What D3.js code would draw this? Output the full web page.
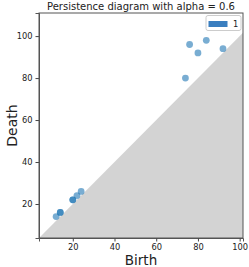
<!DOCTYPE html>
<html lang="en">
<head>
    <meta charset="UTF-8">
    <script src="https://cdn.jsdelivr.net/npm/d3@7"></script>
    <title>Persistence diagram</title>
    <style>
        body { margin: 0; background: white; }
        text { font-family: "DejaVu Sans", sans-serif; fill: #222; }
        .tick line { stroke: #444; }
        .domain { stroke: #555; }
    </style>
</head>
<body>
    <div id="chart"></div>
    <script>
        // points (birth, death); duplicates show as darker dots
        const births = [12, 14, 14, 20, 20, 22, 24, 74, 76, 80, 84, 92];
        const deaths = [14, 16, 16, 22, 22, 24, 26, 80, 96, 92, 98, 94];
        const tickValues = [20, 40, 60, 80, 100];
        const legendLabels = ["1"];

        const width = 249, height = 267;
        const margin = { top: 13, right: 6, bottom: 29, left: 39 };

        const svg = d3.select("#chart").append("svg")
            .attr("width", width)
            .attr("height", height);

        const x = d3.scaleLinear().domain([3.8, 101.6]).range([margin.left, width - margin.right]);
        const y = d3.scaleLinear().domain([3.8, 111]).range([height - margin.bottom, margin.top]);

        // shaded region under the diagonal
        const lo = 3.8, hi = 101.6;
        svg.append("path")
            .attr("d", `M${x(lo)},${y(lo)} L${x(hi)},${y(hi)} L${x(hi)},${y(lo)} Z`)
            .attr("fill", "#d3d3d3");

        svg.selectAll("circle.pt")
            .data(births.map((b, i) => [b, deaths[i]]))
            .enter()
            .append("circle")
            .attr("class", "pt")
            .attr("cx", d => x(d[0]))
            .attr("cy", d => y(d[1]))
            .attr("r", 3.4)
            .attr("fill", "#1f77b4")
            .attr("fill-opacity", 0.6);

        svg.append("g")
            .attr("transform", `translate(0,${height - margin.bottom})`)
            .call(d3.axisBottom(x).tickValues(tickValues).tickSize(3.5).tickPadding(3))
            .call(g => g.selectAll("text").style("font-size", "8.3px"));

        svg.append("g")
            .attr("transform", `translate(${margin.left},0)`)
            .call(d3.axisLeft(y).tickValues(tickValues).tickSize(3.5).tickPadding(3))
            .call(g => g.selectAll("text").style("font-size", "8.3px"));

        // frame
        svg.append("rect")
            .attr("x", margin.left)
            .attr("y", margin.top)
            .attr("width", width - margin.left - margin.right)
            .attr("height", height - margin.top - margin.bottom)
            .attr("fill", "none")
            .attr("stroke", "#555");

        svg.append("text")
            .attr("x", (margin.left + width - margin.right) / 2)
            .attr("y", 10)
            .attr("text-anchor", "middle")
            .style("font-size", "10px")
            .text("Persistence diagram with alpha = 0.6");

        svg.append("text")
            .attr("x", (margin.left + width - margin.right) / 2)
            .attr("y", 264.5)
            .attr("text-anchor", "middle")
            .style("font-size", "13.5px")
            .text("Birth");

        svg.append("text")
            .attr("transform", `translate(16.5,${(margin.top + height - margin.bottom) / 2}) rotate(-90)`)
            .attr("text-anchor", "middle")
            .style("font-size", "14px")
            .text("Death");

        // legend
        const legend = svg.append("g");
        legend.append("rect")
            .attr("x", 206).attr("y", 15.5)
            .attr("width", 35).attr("height", 15)
            .attr("rx", 2)
            .attr("fill", "white").attr("fill-opacity", 0.8)
            .attr("stroke", "#ccc");
        legendLabels.forEach((lab, i) => {
            legend.append("rect")
                .attr("x", 208.5).attr("y", 21 + i * 12)
                .attr("width", 19).attr("height", 6)
                .attr("fill", "#3a7ebf");
            legend.append("text")
                .attr("x", 233).attr("y", 27 + i * 12)
                .style("font-size", "8.3px")
                .text(lab);
        });
    </script>
</body>
</html>
